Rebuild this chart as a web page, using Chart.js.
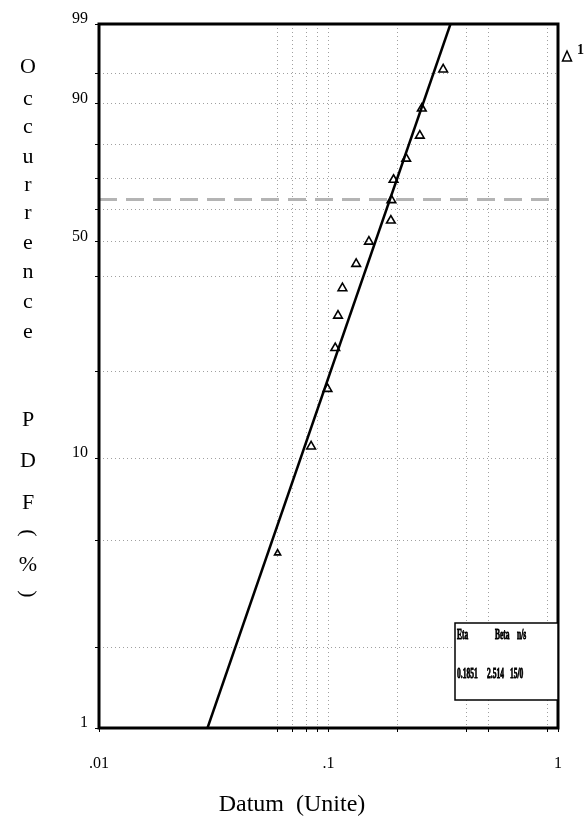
<!DOCTYPE html>
<html>
<head>
<meta charset="utf-8">
<title>Weibull plot</title>
<script src="https://cdn.jsdelivr.net/npm/chart.js@4/dist/chart.umd.min.js"></script>
<style>
    html, body { margin: 0; padding: 0; background: #fff; }
</style>
</head>
<body>
<canvas id="weibullChart" width="587" height="821"></canvas>
<script>
// Sample values (unit) and their median ranks (%)
const datumValues = [0.060, 0.084, 0.099, 0.107, 0.110, 0.115, 0.132, 0.150, 0.187, 0.188, 0.192, 0.218, 0.250, 0.255, 0.316];
const occurrencePct = [4.5, 11.0, 17.5, 24.0, 30.5, 37.0, 43.5, 50.0, 56.5, 63.0, 69.5, 76.0, 82.5, 89.0, 95.5];

// Fitted line end points
const fitDatum = [0.0297, 0.340];
const fitPct = [1, 99];

// Characteristic life line (63.2 %)
const etaLineDatum = [0.01, 1];
const etaLinePct = [63.2, 63.2];

// Grid positions and tick labels
const xGrid = [0.01, 0.06, 0.07, 0.08, 0.09, 0.1, 0.2, 0.4, 0.5, 0.9, 1];
const xTickLabels = ['.01', '', '', '', '', '.1', '', '', '', '', '1'];
const yGrid = [1, 2, 5, 10, 20, 40, 50, 60, 70, 80, 90, 95, 99];
const yTickLabels = ['1', '', '', '10', '', '', '50', '', '', '', '90', '', '99'];

// Parameter box
const paramNames = ['Eta', 'Beta', 'n/s'];
const paramValues = ['0.1851', '2.514', '15/0'];

// Weibull probability scale
function weib(p) {
    return Math.log(-Math.log(1 - p / 100));
}

function toPoints(xs, ps) {
    return xs.map((x, i) => ({ x: x, y: weib(ps[i]) }));
}

// Text around the plot: vertical axis title, x title, legend, parameter box
const annotationPlugin = {
    id: 'weibullText',
    afterDraw(chart) {
        const c = chart.ctx;
        const area = chart.chartArea;
        c.save();

        // frame
        c.strokeStyle = '#000';
        c.lineWidth = 3;
        c.strokeRect(area.left, area.top, area.right - area.left, area.bottom - area.top);

        // vertical title, one letter per row
        const rows = [['O', 67], ['c', 99], ['c', 127], ['u', 157], ['r', 185], ['r', 213], ['e', 243],
                      ['n', 272], ['c', 302], ['e', 332], ['P', 420], ['D', 461], ['F', 503],
                      ['(', 533], ['%', 565], [')', 594]];
        c.fillStyle = '#000';
        c.font = '22px "Liberation Serif"';
        c.textAlign = 'center';
        c.textBaseline = 'middle';
        rows.forEach(r => {
            if (r[0] === '(' || r[0] === ')') {
                c.save();
                c.translate(28, r[1]);
                c.rotate(Math.PI / 2);
                c.fillText(r[0], 0, 0);
                c.restore();
            } else {
                c.fillText(r[0], 28, r[1]);
            }
        });

        // x title
        c.font = '24px "Liberation Serif"';
        c.fillText('Datum  (Unite)', 292, 805);

        // legend at top right
        c.lineWidth = 1.5;
        c.beginPath();
        c.moveTo(567, 51);
        c.lineTo(571.5, 61);
        c.lineTo(562.5, 61);
        c.closePath();
        c.stroke();
        c.font = 'bold 14px "Liberation Serif"';
        c.textAlign = 'left';
        c.textBaseline = 'alphabetic';
        c.fillText('1', 577, 54);

        // parameter box
        const bx = area.right - 103, by = area.bottom - 105;
        c.fillStyle = '#fff';
        c.fillRect(bx, by, 103, 77);
        c.lineWidth = 1.5;
        c.strokeRect(bx, by, 103, 77);
        c.fillStyle = '#000';
        c.font = 'bold 15px "Liberation Serif"';
        c.lineWidth = 0.9;
        const nameX = [bx + 2, bx + 40, bx + 62];
        const valX = [bx + 2, bx + 32, bx + 55];
        c.save();
        c.scale(0.5, 1);
        paramNames.forEach((t, i) => {
            c.fillText(t, nameX[i] * 2, by + 16);
            c.strokeText(t, nameX[i] * 2, by + 16);
        });
        paramValues.forEach((t, i) => {
            c.fillText(t, valX[i] * 2, by + 55);
            c.strokeText(t, valX[i] * 2, by + 55);
        });
        c.restore();

        c.restore();
    }
};

const gridColor = '#a0a0a0';

new Chart(document.getElementById('weibullChart'), {
    type: 'scatter',
    data: {
        datasets: [
            {
                label: '1',
                data: toPoints(datumValues, occurrencePct),
                pointStyle: 'triangle',
                pointRadius: ctx => ctx.dataIndex === 0 ? 3.5 : 5,
                borderColor: '#000',
                backgroundColor: 'rgba(255,255,255,0)',
                borderWidth: 1.6,
                showLine: false,
                order: 0
            },
            {
                label: 'fit',
                data: toPoints(fitDatum, fitPct),
                showLine: true,
                borderColor: '#000',
                borderWidth: 2.5,
                pointRadius: 0,
                order: 1
            },
            {
                label: 'eta',
                data: toPoints(etaLineDatum, etaLinePct),
                showLine: true,
                borderColor: '#b4b4b4',
                borderWidth: 3,
                borderDash: [18, 9],
                pointRadius: 0,
                order: 2
            }
        ]
    },
    options: {
        responsive: false,
        animation: false,
        devicePixelRatio: 1,
        layout: { padding: { top: 24, right: 29, left: 0, bottom: 0 } },
        plugins: {
            legend: { display: false },
            tooltip: { enabled: false }
        },
        scales: {
            x: {
                type: 'logarithmic',
                min: 0.01,
                max: 1,
                afterBuildTicks: scale => {
                    scale.ticks = xGrid.map(v => ({ value: v }));
                },
                afterFit: scale => { scale.height = 93; },
                ticks: {
                    autoSkip: false,
                    maxRotation: 0,
                    padding: 22,
                    color: '#000',
                    font: { family: 'Liberation Serif', size: 16 },
                    callback: (v, i) => xTickLabels[i]
                },
                grid: {
                    color: gridColor,
                    lineWidth: 1,
                    drawTicks: true,
                    tickLength: 4,
                    tickColor: '#000'
                },
                border: { display: false, dash: [1, 3] }
            },
            y: {
                type: 'linear',
                min: weib(1),
                max: weib(99),
                afterBuildTicks: scale => {
                    scale.ticks = yGrid.map(p => ({ value: weib(p) }));
                },
                afterFit: scale => { scale.width = 99; },
                ticks: {
                    autoSkip: false,
                    padding: 7,
                    labelOffset: -5,
                    color: '#000',
                    font: { family: 'Liberation Serif', size: 16 },
                    callback: (v, i) => yTickLabels[i]
                },
                grid: {
                    color: gridColor,
                    lineWidth: 1,
                    drawTicks: true,
                    tickLength: 4,
                    tickColor: '#000'
                },
                border: { display: false, dash: [1, 3] }
            }
        }
    },
    plugins: [annotationPlugin]
});
</script>
</body>
</html>
